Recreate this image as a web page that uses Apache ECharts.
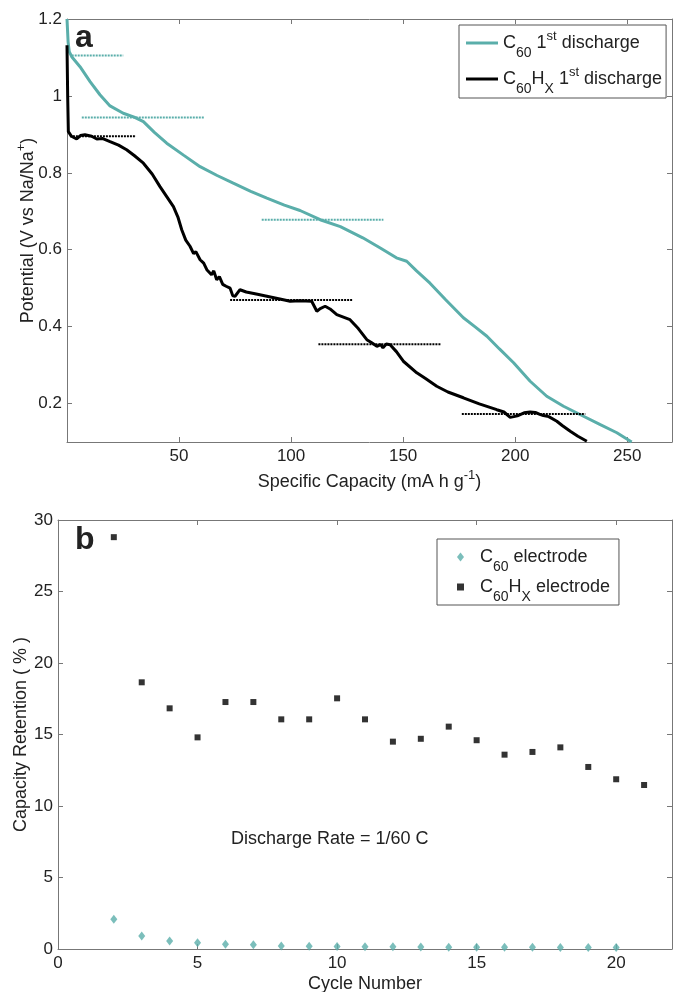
<!DOCTYPE html>
<html>
<head>
<meta charset="utf-8">
<script src="https://cdn.jsdelivr.net/npm/echarts@6/dist/echarts.min.js"></script>
<style>
  html, body { margin: 0; padding: 0; background: #fff; }
  #main { width: 674px; height: 992px; }
</style>
</head>
<body>
<div id="main"></div>
<script>
// panel a: first discharge curves [capacity mAh/g, potential V]
var c60Curve = [[0,1.2],[0.5,1.14],[1,1.115],[2.1,1.102],[5.8,1.076],[10.3,1.037],[14.7,1.003],[19.2,0.974],[25.1,0.955],[30,0.945],[34.1,0.933],[39,0.905],[44.5,0.877],[52,0.846],[59.4,0.816],[67,0.793],[74.2,0.773],[82,0.752],[89.2,0.734],[97,0.716],[104,0.702],[113,0.678],[122,0.66],[132,0.631],[140,0.604],[147,0.579],[151.6,0.57],[156,0.545],[162,0.513],[169,0.47],[176.9,0.423],[182,0.4],[187.4,0.375],[193,0.342],[199.3,0.306],[206.7,0.258],[214.1,0.219],[221.6,0.193],[230.5,0.167],[238,0.145],[245.4,0.124],[252,0.1]];
var c60hxCurve = [[0,1.132],[0.3,1.0],[0.6,0.907],[2,0.895],[4.3,0.888],[6,0.897],[8,0.899],[11,0.895],[13.3,0.888],[16,0.889],[19.2,0.881],[23,0.872],[26.6,0.86],[30,0.845],[34.1,0.825],[38,0.797],[41.5,0.764],[44.5,0.738],[47.5,0.712],[49.5,0.685],[51.2,0.652],[53,0.625],[54.9,0.609],[56.5,0.59],[57.5,0.595],[59.4,0.574],[61,0.565],[62.4,0.548],[64.5,0.535],[65.5,0.545],[66.8,0.522],[68,0.53],[69.5,0.51],[71,0.505],[72.8,0.5],[74,0.48],[75,0.479],[77.2,0.496],[80,0.49],[85,0.484],[89.2,0.479],[95,0.472],[99.6,0.466],[104,0.467],[109.2,0.466],[111.5,0.44],[113,0.447],[115.2,0.453],[117.4,0.446],[120.4,0.431],[126.3,0.418],[130,0.395],[133.8,0.366],[136,0.358],[138.3,0.349],[140,0.353],[141,0.345],[142.5,0.355],[144.2,0.353],[147,0.335],[150.1,0.31],[156.1,0.28],[160,0.265],[165,0.245],[170,0.23],[176.9,0.215],[184,0.199],[191.8,0.184],[195,0.178],[197.8,0.164],[201,0.168],[204,0.176],[206.7,0.178],[209,0.177],[211,0.172],[212.6,0.169],[215,0.166],[218.6,0.154],[221,0.143],[224.6,0.128],[228,0.115],[232,0.102]];

// plateau guide lines [xStart, xEnd, potential]
var c60Plateaus = [[2.1,25.1,1.105],[6.6,61.2,0.944],[86.9,141.2,0.678]];
var c60hxPlateaus = [[1.3,30.8,0.895],[72.8,127.5,0.469],[112.2,166.8,0.354],[176.2,231.3,0.173]];

var capTicks = [50,100,150,200,250];
var potTicks = [0.2,0.4,0.6,0.8,1,1.2];

// panel b: capacity retention (%)
var c60hxCycles = [2,3,4,5,6,7,8,9,10,11,12,13,14,15,16,17,18,19,20,21];
var c60hxRetention = [28.8,18.65,16.83,14.8,17.27,17.27,16.06,16.06,17.53,16.06,14.5,14.7,15.55,14.6,13.59,13.78,14.1,12.73,11.87,11.47];
var c60Cycles = [2,3,4,5,6,7,8,9,10,11,12,13,14,15,16,17,18,19,20];
var c60Retention = [2.08,0.91,0.56,0.44,0.33,0.3,0.21,0.2,0.17,0.16,0.15,0.14,0.13,0.13,0.12,0.12,0.11,0.11,0.1];

var cycleTicks = [0,5,10,15,20];
var retTicks = [0,5,10,15,20,25,30];

var TEAL = '#5aaeaa';
var FONT = 'Liberation Sans, Arial, sans-serif';
var AXIS = '#777';
var TXT = '#222';

var chart = echarts.init(document.getElementById('main'));

function zip(xs, ys) {
    return xs.map(function (x, i) { return [x, ys[i]]; });
}

function plateauSeries(list, color) {
    return list.map(function (p) {
        return {
            type: 'line', xAxisIndex: 0, yAxisIndex: 0,
            data: [[p[0], p[2]], [p[1], p[2]]],
            symbol: 'none', silent: true,
            lineStyle: { color: color, width: 2, type: [2, 1] },
            z: 3
        };
    });
}

function boxAxis(base, extra) {
    return Object.assign({
        type: 'value',
        axisLine: { show: true, onZero: false, lineStyle: { color: AXIS, width: 1 } },
        axisTick: { show: true, inside: true, length: 5, lineStyle: { color: AXIS } },
        splitLine: { show: false },
        axisLabel: { show: false },
        nameMoveOverlap: false
    }, base, extra);
}

function ticks(vals) {
    return { show: true, inside: true, length: 5, lineStyle: { color: AXIS }, customValues: vals };
}

var subSup = {
    m: { fontSize: 18, fontFamily: FONT, color: TXT },
    sp: { width: 11 },
    sub: { fontSize: 14, lineHeight: 14, padding: [20, 0, 0, 0], fontFamily: FONT, color: TXT },
    sup: { fontSize: 13, lineHeight: 13, padding: [0, 0, 13, 0], fontFamily: FONT, color: TXT }
};

var legendText = {
    'C60 1st discharge': '{m|C}{sub|60}{m| 1}{sup|st}{m| discharge}',
    'C60Hx 1st discharge': '{m|C}{sub|60}{m|H}{sub|X}{m| 1}{sup|st}{m| discharge}',
    'C60 electrode': '{sp|}{m|C}{sub|60}{m| electrode}',
    'C60Hx electrode': '{sp|}{m|C}{sub|60}{m|H}{sub|X}{m| electrode}'
};

var capAxis = { min: 0, max: 270, gridIndex: 0 };
var potAxis = { min: 0.1, max: 1.2, gridIndex: 0 };
var cycAxis = { min: 0, max: 22, gridIndex: 1 };
var retAxis = { min: 0, max: 30, gridIndex: 1 };

var labelStyle = { show: true, fontSize: 17, color: TXT, fontFamily: FONT };

var option = {
    animation: false,
    backgroundColor: '#fff',
    grid: [
        { left: 67, top: 19, right: 2, height: 423, outerBoundsMode: 'none', containLabel: false },
        { left: 58, top: 520, right: 2, height: 429, outerBoundsMode: 'none', containLabel: false }
    ],
    xAxis: [
        boxAxis(capAxis, {
            position: 'bottom',
            axisTick: ticks(capTicks),
            axisLabel: Object.assign({ margin: 6, customValues: capTicks }, labelStyle),
            name: 'Specific Capacity (mA h g{sup|-1})',
            nameLocation: 'middle', nameGap: 31,
            nameTextStyle: { fontSize: 18, color: TXT, fontFamily: FONT, rich: subSup }
        }),
        boxAxis(capAxis, { position: 'top', axisTick: ticks(capTicks) }),
        boxAxis(cycAxis, {
            position: 'bottom',
            axisTick: ticks(cycleTicks),
            axisLabel: Object.assign({ margin: 6, customValues: cycleTicks }, labelStyle),
            name: 'Cycle Number',
            nameLocation: 'middle', nameGap: 26,
            nameTextStyle: { fontSize: 18, color: TXT, fontFamily: FONT }
        }),
        boxAxis(cycAxis, { position: 'top', axisTick: ticks(cycleTicks) })
    ],
    yAxis: [
        boxAxis(potAxis, {
            position: 'left',
            axisTick: ticks(potTicks),
            axisLabel: Object.assign({ margin: 5, customValues: potTicks }, labelStyle),
            name: 'Potential (V vs Na/Na{sup|+})',
            nameLocation: 'middle', nameGap: 30,
            nameTextStyle: { fontSize: 18, color: TXT, fontFamily: FONT, rich: subSup }
        }),
        boxAxis(potAxis, { position: 'right', axisTick: ticks(potTicks) }),
        boxAxis(retAxis, {
            position: 'left',
            axisTick: ticks(retTicks),
            axisLabel: Object.assign({ margin: 5, customValues: retTicks }, labelStyle),
            name: 'Capacity Retention ( % )',
            nameLocation: 'middle', nameGap: 28,
            nameTextStyle: { fontSize: 18, color: TXT, fontFamily: FONT }
        }),
        boxAxis(retAxis, { position: 'right', axisTick: ticks(retTicks) })
    ],
    legend: [
        {
            data: [
                { name: 'C60 1st discharge', icon: 'rect' },
                { name: 'C60Hx 1st discharge', icon: 'rect' }
            ],
            orient: 'vertical', left: 459, top: 25,
            padding: [1, 4, 2, 7], itemGap: 2,
            itemWidth: 32, itemHeight: 3,
            backgroundColor: '#fff', borderColor: '#555', borderWidth: 1,
            formatter: function (n) { return legendText[n]; },
            textStyle: { fontSize: 18, color: TXT, fontFamily: FONT, rich: subSup }
        },
        {
            data: [
                { name: 'C60 electrode', icon: 'diamond' },
                { name: 'C60Hx electrode', icon: 'path://M0,0H1V1H0Z' }
            ],
            orient: 'vertical', left: 437, top: 539,
            padding: [1, 9, 1, 20], itemGap: -4,
            itemWidth: 7, itemHeight: 9,
            backgroundColor: '#fff', borderColor: '#555', borderWidth: 1,
            formatter: function (n) { return legendText[n]; },
            textStyle: { fontSize: 18, color: TXT, fontFamily: FONT, rich: subSup }
        }
    ],
    graphic: [
        { type: 'text', left: 75, top: 22, style: { text: 'a', font: 'bold 32px ' + FONT, fill: TXT } },
        { type: 'text', left: 75, top: 524, style: { text: 'b', font: 'bold 32px ' + FONT, fill: TXT } },
        { type: 'text', left: 231, top: 830, style: { text: 'Discharge Rate = 1/60 C', font: '18px ' + FONT, fill: TXT } }
    ],
    series: [
        {
            name: 'C60 1st discharge', type: 'line', xAxisIndex: 0, yAxisIndex: 0,
            data: c60Curve, symbol: 'none', color: TEAL,
            lineStyle: { color: TEAL, width: 3 }, z: 2
        },
        {
            name: 'C60Hx 1st discharge', type: 'line', xAxisIndex: 0, yAxisIndex: 0,
            data: c60hxCurve, symbol: 'none', color: '#000',
            lineStyle: { color: '#000', width: 3 }, z: 2
        }
    ].concat(plateauSeries(c60Plateaus, TEAL), plateauSeries(c60hxPlateaus, '#000'), [
        {
            name: 'C60 electrode', type: 'scatter', xAxisIndex: 2, yAxisIndex: 2,
            data: zip(c60Cycles, c60Retention),
            symbol: 'diamond', symbolSize: [7, 9], itemStyle: { color: TEAL }
        },
        {
            name: 'C60Hx electrode', type: 'scatter', xAxisIndex: 2, yAxisIndex: 2,
            data: zip(c60hxCycles, c60hxRetention),
            symbol: 'rect', symbolSize: 6, itemStyle: { color: '#000' }
        }
    ])
};

chart.setOption(option);
</script>
</body>
</html>
